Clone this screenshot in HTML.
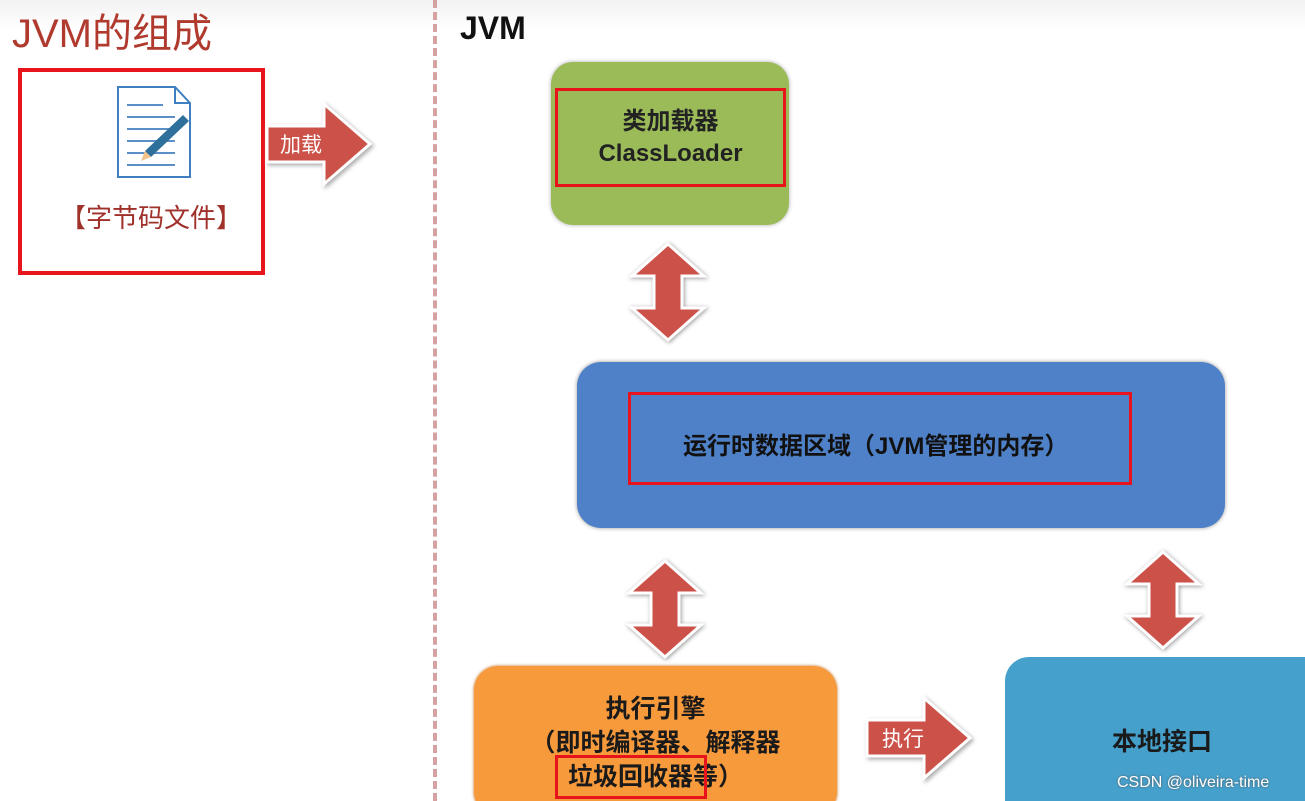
<!DOCTYPE html>
<html style="height:801px;overflow:hidden"><head><meta charset="utf-8"><style>
body{margin:0;width:1305px;height:801px;background:#fff;position:relative;overflow:hidden;font-family:"Liberation Sans","Noto Sans CJK SC",sans-serif}
.a{position:absolute}
.t{position:absolute;text-align:center;font-weight:bold;color:#222}
</style></head><body>
<div class="a" style="left:0;top:0;width:1305px;height:30px;background:linear-gradient(#f2f2f2,#fff)"></div>
<div class="a" style="left:12px;top:1px;font-size:40px;color:#b03a2e">JVM的组成</div>
<div class="a" style="left:433px;top:0;height:801px;border-left:4px dashed #d4a2a2"></div>
<div class="a" style="left:460px;top:10px;font-size:32px;font-weight:bold;color:#111">JVM</div>
<div class="a" style="left:18px;top:68px;width:239px;height:199px;border:4px solid #e8141c"></div>
<svg class="a" style="left:115px;top:85px" width="80" height="95">
<path d="M3 2H60L75 18V92H3Z" fill="#fff" stroke="#3d7fbf" stroke-width="2"/>
<path d="M60 2V18H75" fill="none" stroke="#3d7fbf" stroke-width="2"/>
<g stroke="#5b8fc9" stroke-width="2"><line x1="12" y1="20" x2="48" y2="20"/><line x1="12" y1="32" x2="60" y2="32"/><line x1="12" y1="44" x2="60" y2="44"/><line x1="12" y1="56" x2="60" y2="56"/><line x1="12" y1="68" x2="60" y2="68"/><line x1="12" y1="80" x2="60" y2="80"/></g>
<path d="M68 30L74 36L36 72L30 66Z" fill="#2f6f9c"/><path d="M30 66L36 72L26 76Z" fill="#f2c28a"/></svg>
<div class="a" style="left:60px;top:198px;font-size:26px;color:#a0302a">【字节码文件】</div>
<svg class="a" style="left:262px;top:96px" width="115" height="100"><path d="M5 30H62V8L108 48L62 88V66H5Z" fill="#cc5249" stroke="#fff" stroke-width="3" filter="drop-shadow(2px 2px 2px #aaa)"/><text x="18" y="56" font-size="21" fill="#fff" font-family="Noto Sans CJK SC">加载</text></svg>
<div class="a" style="left:551px;top:62px;width:238px;height:163px;background:#9bbb59;border-radius:22px;box-shadow:0 0 4px #aaa"></div>
<div class="a" style="left:555px;top:88px;width:225px;height:93px;border:3px solid #e8141c"></div>
<div class="t" style="left:555px;top:106px;width:231px;font-size:24px;line-height:32px">类加载器<br>ClassLoader</div>
<div class="a" style="left:577px;top:362px;width:648px;height:166px;background:#4f81c8;border-radius:24px;box-shadow:0 0 4px #999"></div>
<div class="a" style="left:628px;top:392px;width:498px;height:87px;border:3px solid #e8141c"></div>
<div class="t" style="left:683px;top:426px;font-size:24px;color:#111;text-align:left">运行时数据区域（JVM管理的内存）</div>
<div class="a" style="left:474px;top:666px;width:363px;height:150px;background:#f79a3c;border-radius:24px;box-shadow:0 0 3px #c07020"></div>
<div class="t" style="left:474px;top:692px;width:363px;font-size:25px;line-height:34px;color:#1a1a1a">执行引擎<br>（即时编译器、解释器<br>垃圾回收器等）</div>
<div class="a" style="left:555px;top:755px;width:146px;height:38px;border:3px solid #e8141c"></div>
<div class="a" style="left:1005px;top:657px;width:330px;height:170px;background:#45a0cc;border-radius:24px"></div>
<div class="t" style="left:1112px;top:722px;font-size:25px;color:#1a1a1a;text-align:left">本地接口</div>
<svg class="a" style="left:862px;top:690px" width="115" height="100"><path d="M5 30H62V8L108 48L62 88V66H5Z" fill="#cc5249" stroke="#fff" stroke-width="3" filter="drop-shadow(2px 2px 2px #aaa)"/><text x="20" y="56" font-size="21" fill="#fff" font-family="Noto Sans CJK SC">执行</text></svg>
<svg class="a" style="left:0;top:0" width="1305" height="801"><defs><g id="d"><path d="M0 -48L36 -16H14V16H36L0 48L-36 16H-14V-16H-36Z" fill="#cc5249" stroke="#fff" stroke-width="3" filter="drop-shadow(1px 1px 2px #999)"/></g></defs>
<use href="#d" x="668" y="292"/><use href="#d" x="665" y="609"/><use href="#d" x="1163" y="600"/></svg>
<div class="a" style="left:1117px;top:774px;font-size:16px;color:#fff;text-shadow:0 0 2px #555">CSDN @oliveira-time</div>
</body></html>
